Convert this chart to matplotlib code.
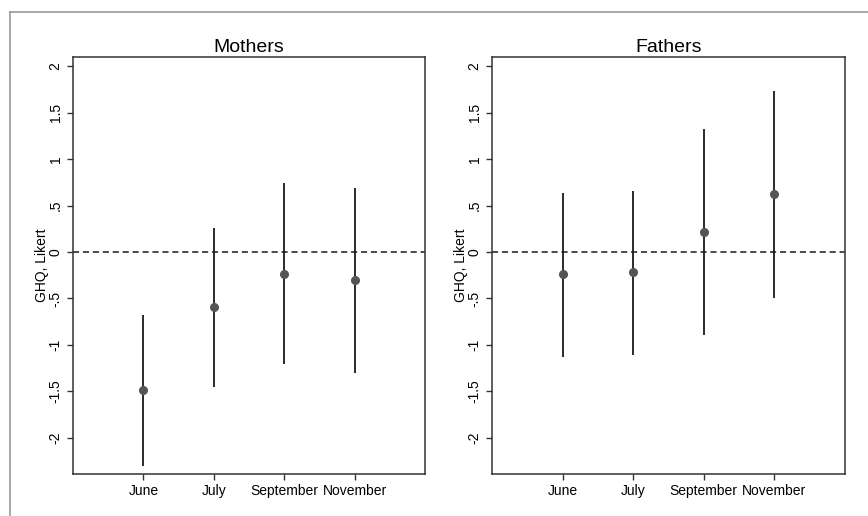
import matplotlib.pyplot as plt
from matplotlib.lines import Line2D

months = ["June", "July", "September", "November"]

mothers_est = [-1.49, -0.59, -0.24, -0.30]
mothers_lo = [-2.30, -1.45, -1.21, -1.30]
mothers_hi = [-0.68, 0.26, 0.74, 0.69]

fathers_est = [-0.24, -0.22, 0.22, 0.62]
fathers_lo = [-1.13, -1.11, -0.89, -0.50]
fathers_hi = [0.64, 0.66, 1.32, 1.73]

yticks = [-2, -1.5, -1, -0.5, 0, 0.5, 1, 1.5, 2]
ytick_labels = ["-2", "-1.5", "-1", "-.5", "0", ".5", "1", "1.5", "2"]

plt.rcParams["font.family"] = ["Liberation Sans", "DejaVu Sans"]

fig = plt.figure(figsize=(8.68, 5.16), dpi=100)

# thin gray frame along the top and left edge
fig.add_artist(Line2D([10 / 868, 10 / 868], [0, 1 - 12 / 516], color="#999999", lw=1.2))
fig.add_artist(Line2D([10 / 868, 1], [1 - 12 / 516, 1 - 12 / 516], color="#999999", lw=1.2))

panels = [
    ("Mothers", mothers_est, mothers_lo, mothers_hi, [0.0841, 0.0814, 0.4055, 0.808]),
    ("Fathers", fathers_est, fathers_lo, fathers_hi, [0.5668, 0.0814, 0.4067, 0.808]),
]

for title, est, lo, hi, pos in panels:
    ax = fig.add_axes(pos)
    x = list(range(1, len(months) + 1))
    ax.vlines(x, lo, hi, color="#1a1a1a", lw=1.3, zorder=2)
    ax.plot(x, est, "o", color="#555555", markersize=5.5, zorder=3)
    ax.axhline(0, color="#1a1a1a", lw=1.1, ls=(0, (4, 2.5)), zorder=1)
    ax.set_xlim(0, 5)
    ax.set_ylim(-2.39, 2.10)
    ax.set_xticks(x)
    ax.set_xticklabels(months, fontsize=10)
    ax.set_yticks(yticks)
    ax.set_yticklabels(ytick_labels, rotation=90, va="center", fontsize=10)
    ax.set_ylabel("GHQ, Likert", fontsize=10, labelpad=0)
    ax.set_title(title, fontsize=14, pad=4)
    for s in ax.spines.values():
        s.set_color("#333333")
        s.set_linewidth(1.1)
    ax.tick_params(colors="#333333", labelcolor="black", length=4, width=1)

fig.savefig("out.png", dpi=100)
